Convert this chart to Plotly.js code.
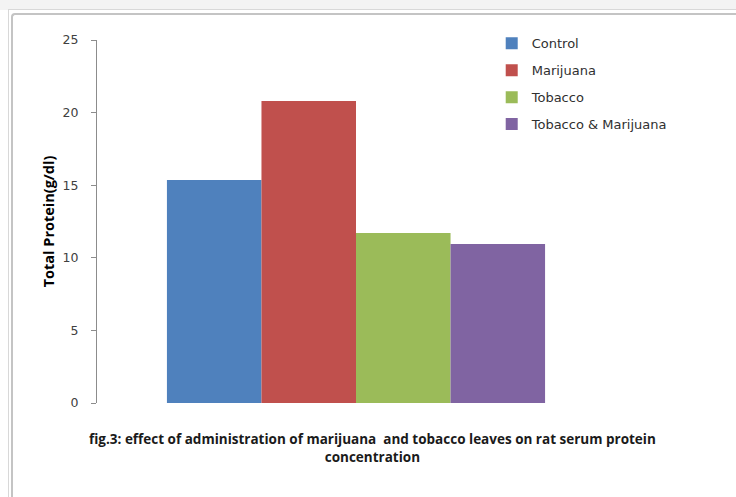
<!DOCTYPE html>
<html>
<head>
<meta charset="utf-8">
<script src="https://cdn.plot.ly/plotly-3.0.1.min.js"></script>
<style>
  html, body { margin: 0; padding: 0; background: #ffffff; }
  #wrap { position: relative; width: 736px; height: 497px; overflow: hidden; background: #ffffff; }
  #topstrip { position: absolute; left: 0; top: 0; width: 736px; height: 10px; background: #f3f3f3; }
  #outer { position: absolute; left: 8px; top: 9px; width: 740px; height: 500px; border-left: 1px solid #d8d8d8; border-top: 1px solid #d8d8d8; }
  #inner { position: absolute; left: 11px; top: 13px; width: 740px; height: 500px; border-left: 2px solid #c4c4c4; border-top: 2px solid #c4c4c4; border-top-left-radius: 4px; }
  #chart { position: absolute; left: 0; top: 0; width: 736px; height: 497px; }
</style>
</head>
<body>
<div id="wrap">
  <div id="topstrip"></div>
  <div id="outer"></div>
  <div id="inner"></div>
  <div id="chart"></div>
</div>
<script>
// Data
const categories = ['Total Protein'];
const seriesNames = ['Control', 'Marijuana', 'Tobacco', 'Tobacco & Marijuana'];
const seriesValues = [15.35, 20.8, 11.7, 10.95];
const seriesColors = ['#4F81BD', '#C0504D', '#9BBB59', '#8064A2'];
const yTitle = 'Total Protein(g/dl)';
const caption = 'fig.3: effect of administration of marijuana  and tobacco leaves on rat serum protein<br>concentration';

const traces = seriesNames.map((name, i) => ({
  type: 'bar',
  name: name,
  x: categories,
  y: [seriesValues[i]],
  marker: { color: seriesColors[i], line: { width: 0 } },
  legendgroup: 'g' + i,
  hoverinfo: 'name+y'
}));

const layout = {
  width: 736,
  height: 497,
  margin: { l: 97, r: 121, t: 40, b: 94 },
  paper_bgcolor: 'rgba(0,0,0,0)',
  plot_bgcolor: 'rgba(0,0,0,0)',
  barmode: 'group',
  bargap: 0.27,
  bargroupgap: 0,
  showlegend: true,
  legend: {
    x: 0.762, y: 1.032, xanchor: 'left', yanchor: 'top',
    font: { family: 'DejaVu Sans', size: 13, color: '#303030' },
    traceorder: 'grouped',
    tracegroupgap: 7,
    itemwidth: 30,
    bgcolor: 'rgba(0,0,0,0)'
  },
  xaxis: {
    type: 'category',
    showticklabels: false,
    showline: false,
    showgrid: false,
    zeroline: false,
    ticks: ''
  },
  yaxis: {
    range: [0, 25],
    tickvals: [0, 5, 10, 15, 20, 25],
    ticktext: ['0', '5', '10', '15', '20', '25'],
    showline: true,
    linecolor: '#8c8c8c',
    linewidth: 1,
    ticks: 'outside',
    ticklen: 5,
    tickcolor: '#8c8c8c',
    ticklabelstandoff: 10,
    showgrid: false,
    zeroline: false,
    tickfont: { family: 'DejaVu Sans', size: 12.5, color: '#404040' },
    title: {
      text: '<b>' + yTitle + '</b>',
      font: { family: 'Open Sans', size: 14.5, color: '#000000' },
      standoff: 4
    }
  },
  annotations: [{
    text: '<b>' + caption + '</b>',
    xref: 'paper', yref: 'paper',
    x: 0.531, y: -0.124,
    xanchor: 'center', yanchor: 'middle',
    showarrow: false,
    align: 'center',
    font: { family: 'Open Sans', size: 13.5, color: '#1a1a1a' }
  }]
};

Plotly.newPlot('chart', traces, layout, { displayModeBar: false, staticPlot: true });
</script>
</body>
</html>
